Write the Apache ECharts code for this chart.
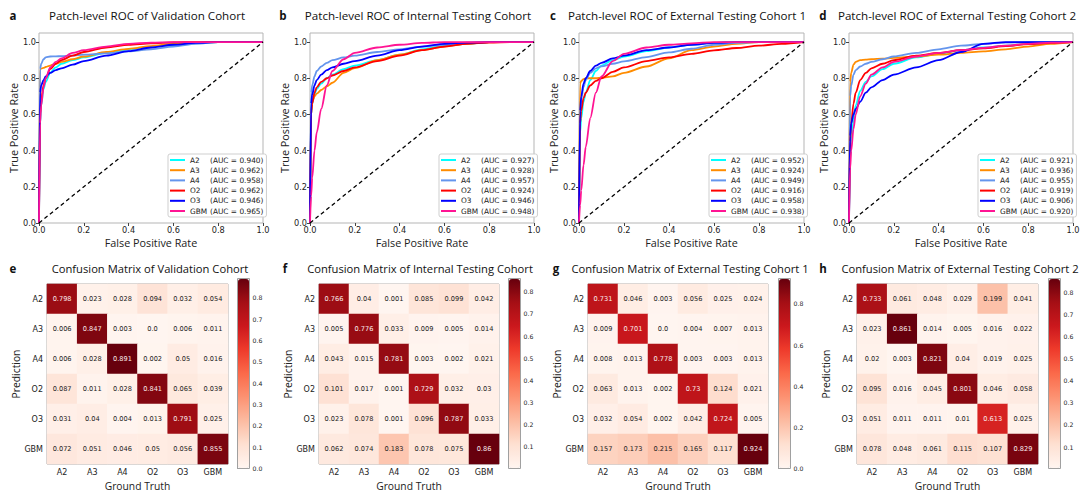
<!DOCTYPE html>
<html>
<head>
<meta charset="utf-8">
<script src="https://cdn.jsdelivr.net/npm/echarts@6/dist/echarts.min.js"></script>
<style>
  html, body { margin: 0; padding: 0; background: #fff; }
  #main { width: 1083px; height: 493px; }
</style>
</head>
<body>
<div id="main"></div>
<script>
const classes = ['A2', 'A3', 'A4', 'O2', 'O3', 'GBM'];
const lineColors = ['#00ffff', '#ff8c00', '#6495ed', '#ff0000', '#0000ff', '#ff1493'];
const reds = ['#fff5f0', '#fee0d2', '#fcbba1', '#fc9272', '#fb6a4a', '#ef3b2c', '#cb181d', '#a50f15', '#67000d'];

// shared FPR sample points for the ROC curves
const fpr = [0, 0.005, 0.01, 0.02, 0.03, 0.05, 0.075, 0.1, 0.15, 0.2, 0.3, 0.4, 0.5, 0.6, 0.7, 0.8, 0.9, 1];
const chanceLine = [[0, 0], [1, 1]];
const rocTicks = [0, 0.2, 0.4, 0.6, 0.8, 1.0];

// a - validation cohort
const tprValA2 = [0, 0.55, 0.65, 0.74, 0.78, 0.83, 0.86, 0.88, 0.9, 0.915, 0.94, 0.96, 0.975, 0.985, 0.995, 1, 1, 1];
const tprValA3 = [0, 0.85, 0.853, 0.857, 0.862, 0.87, 0.88, 0.89, 0.905, 0.92, 0.945, 0.962, 0.978, 0.99, 0.997, 1, 1, 1];
const tprValA4 = [0, 0.85, 0.88, 0.905, 0.915, 0.92, 0.921, 0.922, 0.925, 0.93, 0.937, 0.948, 0.96, 0.975, 0.99, 1, 1, 1];
const tprValO2 = [0, 0.6, 0.68, 0.76, 0.8, 0.85, 0.88, 0.9, 0.925, 0.945, 0.97, 0.985, 0.993, 0.998, 1, 1, 1, 1];
const tprValO3 = [0, 0.72, 0.76, 0.79, 0.81, 0.83, 0.845, 0.855, 0.875, 0.895, 0.925, 0.95, 0.97, 0.985, 0.995, 1, 1, 1];
const tprValGBM = [0, 0.55, 0.65, 0.75, 0.8, 0.86, 0.89, 0.91, 0.94, 0.955, 0.975, 0.99, 0.997, 1, 1, 1, 1, 1];
const aucVal = ['0.940', '0.962', '0.958', '0.962', '0.946', '0.965'];

// b - internal testing cohort
const tprIntA2 = [0, 0.6, 0.66, 0.71, 0.74, 0.77, 0.8, 0.82, 0.85, 0.87, 0.9, 0.93, 0.96, 0.98, 0.99, 1, 1, 1];
const tprIntA3 = [0, 0.62, 0.67, 0.7, 0.715, 0.735, 0.755, 0.775, 0.83, 0.856, 0.9, 0.93, 0.955, 0.975, 0.99, 1, 1, 1];
const tprIntA4 = [0, 0.72, 0.76, 0.81, 0.84, 0.865, 0.885, 0.9, 0.915, 0.925, 0.945, 0.96, 0.975, 0.985, 0.995, 1, 1, 1];
const tprIntO2 = [0, 0.6, 0.66, 0.72, 0.75, 0.78, 0.8, 0.815, 0.84, 0.86, 0.895, 0.925, 0.955, 0.975, 0.99, 0.997, 1, 1];
const tprIntO3 = [0, 0.66, 0.71, 0.76, 0.79, 0.82, 0.845, 0.86, 0.88, 0.895, 0.925, 0.955, 0.975, 0.99, 0.997, 1, 1, 1];
const tprIntGBM = [0, 0.15, 0.25, 0.4, 0.5, 0.63, 0.76, 0.84, 0.905, 0.94, 0.97, 0.985, 0.995, 1, 1, 1, 1, 1];
const aucInt = ['0.927', '0.928', '0.957', '0.924', '0.946', '0.948'];

// c - external testing cohort 1
const tprExt1A2 = [0, 0.5, 0.58, 0.67, 0.72, 0.79, 0.84, 0.87, 0.9, 0.92, 0.95, 0.97, 0.985, 0.995, 1, 1, 1, 1];
const tprExt1A3 = [0, 0.77, 0.785, 0.795, 0.8, 0.8, 0.8, 0.803, 0.81, 0.83, 0.865, 0.91, 0.955, 0.975, 0.99, 1, 1, 1];
const tprExt1A4 = [0, 0.6, 0.68, 0.75, 0.79, 0.83, 0.855, 0.866, 0.88, 0.893, 0.917, 0.943, 0.963, 0.985, 0.995, 1, 1, 1];
const tprExt1O2 = [0, 0.55, 0.62, 0.69, 0.72, 0.76, 0.785, 0.8, 0.835, 0.86, 0.895, 0.915, 0.935, 0.954, 0.967, 0.98, 0.99, 1];
const tprExt1O3 = [0, 0.62, 0.7, 0.77, 0.8, 0.84, 0.87, 0.885, 0.91, 0.925, 0.955, 0.97, 0.985, 0.995, 1, 1, 1, 1];
const tprExt1GBM = [0, 0.1, 0.18, 0.32, 0.42, 0.58, 0.72, 0.81, 0.895, 0.935, 0.97, 0.985, 0.993, 1, 1, 1, 1, 1];
const aucExt1 = ['0.952', '0.924', '0.949', '0.916', '0.958', '0.938'];

// d - external testing cohort 2
const tprExt2A2 = [0, 0.35, 0.45, 0.57, 0.65, 0.73, 0.78, 0.81, 0.85, 0.88, 0.915, 0.935, 0.955, 0.97, 0.98, 0.99, 0.996, 1];
const tprExt2A3 = [0, 0.78, 0.83, 0.875, 0.89, 0.9, 0.903, 0.905, 0.908, 0.912, 0.92, 0.93, 0.94, 0.948, 0.96, 0.975, 0.99, 1];
const tprExt2A4 = [0, 0.7, 0.76, 0.82, 0.845, 0.865, 0.88, 0.89, 0.905, 0.92, 0.94, 0.96, 0.98, 0.99, 0.997, 1, 1, 1];
const tprExt2O2 = [0, 0.45, 0.55, 0.66, 0.72, 0.79, 0.83, 0.855, 0.88, 0.9, 0.925, 0.94, 0.955, 0.965, 0.977, 0.988, 0.996, 1];
const tprExt2O3 = [0, 0.48, 0.55, 0.6, 0.63, 0.67, 0.72, 0.75, 0.79, 0.82, 0.86, 0.9, 0.945, 0.99, 1, 1, 1, 1];
const tprExt2GBM = [0, 0.3, 0.4, 0.52, 0.6, 0.7, 0.77, 0.82, 0.86, 0.89, 0.92, 0.94, 0.955, 0.968, 0.98, 0.99, 0.997, 1];
const aucExt2 = ['0.921', '0.936', '0.955', '0.919', '0.906', '0.920'];

// confusion matrices: rows = prediction, cols = ground truth
const cmVal = [
  [0.798, 0.023, 0.028, 0.094, 0.032, 0.054],
  [0.006, 0.847, 0.003, 0.0, 0.006, 0.011],
  [0.006, 0.028, 0.891, 0.002, 0.05, 0.016],
  [0.087, 0.011, 0.028, 0.841, 0.065, 0.039],
  [0.031, 0.04, 0.004, 0.013, 0.791, 0.025],
  [0.072, 0.051, 0.046, 0.05, 0.056, 0.855]
];
const cmInt = [
  [0.766, 0.04, 0.001, 0.085, 0.099, 0.042],
  [0.005, 0.776, 0.033, 0.009, 0.005, 0.014],
  [0.043, 0.015, 0.781, 0.003, 0.002, 0.021],
  [0.101, 0.017, 0.001, 0.729, 0.032, 0.03],
  [0.023, 0.078, 0.001, 0.096, 0.787, 0.033],
  [0.062, 0.074, 0.183, 0.078, 0.075, 0.86]
];
const cmExt1 = [
  [0.731, 0.046, 0.003, 0.056, 0.025, 0.024],
  [0.009, 0.701, 0.0, 0.004, 0.007, 0.013],
  [0.008, 0.013, 0.778, 0.003, 0.003, 0.013],
  [0.063, 0.013, 0.002, 0.73, 0.124, 0.021],
  [0.032, 0.054, 0.002, 0.042, 0.724, 0.005],
  [0.157, 0.173, 0.215, 0.165, 0.117, 0.924]
];
const cmExt2 = [
  [0.733, 0.061, 0.048, 0.029, 0.199, 0.041],
  [0.023, 0.861, 0.014, 0.005, 0.016, 0.022],
  [0.02, 0.003, 0.821, 0.04, 0.019, 0.025],
  [0.095, 0.016, 0.045, 0.801, 0.046, 0.058],
  [0.051, 0.011, 0.011, 0.01, 0.613, 0.025],
  [0.078, 0.048, 0.061, 0.115, 0.107, 0.829]
];
const cbTicksVal = [0, 0.1, 0.2, 0.3, 0.4, 0.5, 0.6, 0.7, 0.8];
const cbTicksInt = [0.1, 0.2, 0.3, 0.4, 0.5, 0.6, 0.7, 0.8];
const cbTicksExt1 = [0, 0.2, 0.4, 0.6, 0.8];
const cbTicksExt2 = [0.1, 0.2, 0.3, 0.4, 0.5, 0.6, 0.7, 0.8];

// panel layout
const rocPanels = [
  { letter: 'a', title: 'Patch-level ROC of Validation Cohort', left: 39, width: 224, letterX: 13, titleX: 147,
    tpr: [tprValA2, tprValA3, tprValA4, tprValO2, tprValO3, tprValGBM], auc: aucVal },
  { letter: 'b', title: 'Patch-level ROC of Internal Testing Cohort', left: 310, width: 224, letterX: 283, titleX: 418,
    tpr: [tprIntA2, tprIntA3, tprIntA4, tprIntO2, tprIntO3, tprIntGBM], auc: aucInt },
  { letter: 'c', title: 'Patch-level ROC of External Testing Cohort 1', left: 579, width: 225, letterX: 553, titleX: 687,
    tpr: [tprExt1A2, tprExt1A3, tprExt1A4, tprExt1O2, tprExt1O3, tprExt1GBM], auc: aucExt1 },
  { letter: 'd', title: 'Patch-level ROC of External Testing Cohort 2', left: 849, width: 224, letterX: 823, titleX: 957,
    tpr: [tprExt2A2, tprExt2A3, tprExt2A4, tprExt2O2, tprExt2O3, tprExt2GBM], auc: aucExt2 }
];
const cmPanels = [
  { letter: 'e', title: 'Confusion Matrix of Validation Cohort', left: 47, width: 181, cbLeft: 238, letterX: 13, titleX: 147, cm: cmVal, ticks: cbTicksVal },
  { letter: 'f', title: 'Confusion Matrix of Internal Testing Cohort', left: 319, width: 180, cbLeft: 509, letterX: 285, titleX: 417, cm: cmInt, ticks: cbTicksInt },
  { letter: 'g', title: 'Confusion Matrix of External Testing Cohort 1', left: 588, width: 180, cbLeft: 779, letterX: 556, titleX: 687, cm: cmExt1, ticks: cbTicksExt1 },
  { letter: 'h', title: 'Confusion Matrix of External Testing Cohort 2', left: 857, width: 181, cbLeft: 1049, letterX: 823, titleX: 957, cm: cmExt2, ticks: cbTicksExt2 }
];

const numFont = 'DejaVu Sans';
const txtFont = 'Open Sans';
const fmtCell = (v) => (v === 0 ? '0.0' : String(v));

const grids = [], xAxes = [], yAxes = [], series = [], legends = [], visualMaps = [], texts = [];

function addText(x, y, text, font) {
  texts.push({ type: 'text', x: x, y: y, silent: true,
    style: { text: text, font: font, fill: '#111', align: 'center', verticalAlign: 'middle', textAlign: 'center', textVerticalAlign: 'middle' } });
}

// ROC panels
rocPanels.forEach((p) => {
  const gi = grids.length;
  grids.push({ left: p.left, top: 33, width: p.width, height: 190, show: true, borderColor: '#b5b5b5', borderWidth: 1 });
  const ai = xAxes.length;
  xAxes.push({
    type: 'value', gridIndex: gi, min: 0, max: 1, interval: 0.2,
    name: 'False Positive Rate', nameLocation: 'middle', nameGap: 14,
    nameTextStyle: { fontFamily: txtFont, fontSize: 10.8, color: '#222' },
    axisLine: { show: false }, splitLine: { show: false },
    axisTick: { length: 3, lineStyle: { color: '#444' } },
    axisLabel: { fontFamily: numFont, fontSize: 8.2, color: '#222', margin: 3, formatter: (v) => v.toFixed(1) }
  });
  yAxes.push({
    type: 'value', gridIndex: gi, min: 0, max: 1.05, interval: 0.2,
    name: 'True Positive Rate', nameLocation: 'middle', nameGap: 20,
    nameTextStyle: { fontFamily: txtFont, fontSize: 10.8, color: '#222' },
    axisLine: { show: false }, splitLine: { show: false },
    axisTick: { length: 3, lineStyle: { color: '#444' }, customValues: rocTicks },
    axisLabel: { fontFamily: numFont, fontSize: 8.2, color: '#222', margin: 3, customValues: rocTicks,
      formatter: (v) => (v > 1.01 ? '' : v.toFixed(1)) }
  });
  classes.forEach((c, i) => {
    series.push({
      name: c, type: 'line', xAxisIndex: ai, yAxisIndex: ai,
      data: fpr.map((x, j) => [x, p.tpr[i][j]]),
      showSymbol: false, smooth: 0.3, smoothMonotone: 'x',
      lineStyle: { color: lineColors[i], width: 1.8 }, itemStyle: { color: lineColors[i] },
      silent: true
    });
  });
  series.push({
    type: 'line', xAxisIndex: ai, yAxisIndex: ai, data: chanceLine, showSymbol: false, silent: true,
    lineStyle: { color: '#000', width: 1.3, type: [4, 3] }
  });
  legends.push({
    data: classes, orient: 'vertical', left: p.left + p.width - 95, top: 154,
    icon: 'rect', itemWidth: 15, itemHeight: 2, itemGap: 3.2, selectedMode: false,
    backgroundColor: '#fff', borderColor: '#cfcfcf', borderWidth: 1, borderRadius: 2, padding: [2.5, 3, 2.5, 2],
    textStyle: { fontFamily: numFont, fontSize: 7.4, color: '#222',
      rich: { n: { width: 20, fontFamily: numFont, fontSize: 7.4 }, v: { fontFamily: numFont, fontSize: 7.4 } } },
    formatter: (name) => '{n|' + name + '}{v|(AUC = ' + p.auc[classes.indexOf(name)] + ')}'
  });
  addText(p.letterX, 15, p.letter, 'bold 11.5px "Open Sans"');
  addText(p.titleX, 15, p.title, '11.6px "Open Sans"');
});

// confusion matrix panels
cmPanels.forEach((p) => {
  const flat = p.cm.flat();
  const vmin = Math.min(...flat), vmax = Math.max(...flat);

  const gi = grids.length;
  grids.push({ left: p.left, top: 284, width: p.width, height: 180, show: true, borderColor: '#a0a0a0', borderWidth: 1 });
  const ai = xAxes.length;
  xAxes.push({
    type: 'category', gridIndex: gi, data: classes,
    name: 'Ground Truth', nameLocation: 'middle', nameGap: 17,
    nameTextStyle: { fontFamily: txtFont, fontSize: 10.3, color: '#222' },
    axisLine: { show: false }, splitLine: { show: false },
    axisTick: { alignWithLabel: true, length: 3, lineStyle: { color: '#444' } },
    axisLabel: { fontFamily: numFont, fontSize: 8, color: '#222', margin: 4 }
  });
  yAxes.push({
    type: 'category', gridIndex: gi, data: classes, inverse: true,
    name: 'Prediction', nameLocation: 'middle', nameGap: 26,
    nameTextStyle: { fontFamily: txtFont, fontSize: 10.3, color: '#222' },
    axisLine: { show: false }, splitLine: { show: false },
    axisTick: { alignWithLabel: true, length: 3, lineStyle: { color: '#444' } },
    axisLabel: { fontFamily: numFont, fontSize: 8, color: '#222', margin: 4 }
  });
  const data = [];
  p.cm.forEach((row, r) => row.forEach((v, c) => {
    data.push({ value: [c, r, v], label: { color: v > vmax / 2 ? '#fbeeee' : '#1a1a1a' } });
  }));
  const sIdx = series.length;
  series.push({
    type: 'heatmap', xAxisIndex: ai, yAxisIndex: ai, data: data, silent: true,
    label: { show: true, fontFamily: numFont, fontSize: 6.6, formatter: (o) => fmtCell(o.value[2]) }
  });

  // colorbar: visualMap gradient plus a thin grid carrying its tick axis
  visualMaps.push({
    type: 'continuous', seriesIndex: sIdx, min: vmin, max: vmax, calculable: false, hoverLink: false,
    left: p.cbLeft, top: 279, itemWidth: 11, itemHeight: 189, padding: 0,
    inRange: { color: reds }
  });
  const cg = grids.length;
  grids.push({ left: p.cbLeft - 0.5, top: 278.5, width: 12, height: 190, show: true, borderColor: '#a0a0a0', borderWidth: 1, backgroundColor: 'transparent', z: 5 });
  xAxes.push({ type: 'value', gridIndex: cg, show: false, min: 0, max: 1 });
  yAxes.push({
    type: 'value', gridIndex: cg, position: 'right', min: vmin, max: vmax,
    axisLine: { show: false }, splitLine: { show: false },
    axisTick: { length: 2.5, lineStyle: { color: '#444' }, customValues: p.ticks },
    axisLabel: { fontFamily: numFont, fontSize: 6.2, color: '#222', margin: 3, customValues: p.ticks, formatter: (v) => v.toFixed(1) }
  });
  addText(p.letterX, 268, p.letter, 'bold 11.5px "Open Sans"');
  addText(p.titleX + 3, 268, p.title, '11.2px "Open Sans"');
});

const chart = echarts.init(document.getElementById('main'), null, { renderer: 'svg' });
chart.setOption({
  animation: false,
  backgroundColor: '#fff',
  grid: grids,
  xAxis: xAxes,
  yAxis: yAxes,
  legend: legends,
  visualMap: visualMaps,
  series: series,
  graphic: { elements: texts }
});
</script>
</body>
</html>
